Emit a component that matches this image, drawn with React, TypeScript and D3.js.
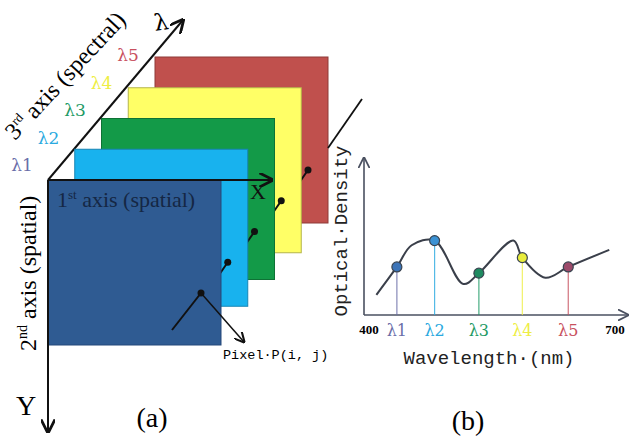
import React from "react";
import * as d3 from "d3";

// panel (a): image cube layers, front (λ1) to back (λ5)
const layerNames = ["λ1", "λ2", "λ3", "λ4", "λ5"];
const layerFill = ["#2f5b92", "#18b2ee", "#139a48", "#ffff66", "#c0504d"];
const layerStroke = ["#24487a", "#1784b4", "#0e7235", "#b5b54a", "#8e3b39"];
const layerHeight = [165, 157, 161, 165, 166];
const labelColor = ["#6a6ea8", "#2aa9e0", "#1d9a64", "#eeee44", "#c8505e"];

// panel (b): spectrum
const curveNm = [409, 434, 452, 480, 515, 534, 576, 587, 615, 643, 693];
const curveOD = [0.13, 0.31, 0.45, 0.48, 0.2, 0.27, 0.48, 0.37, 0.24, 0.31, 0.42];
const bandNm = [434, 480, 534, 587, 643];
const bandOD = [0.31, 0.48, 0.27, 0.37, 0.31];
const dotFill = ["#3c74b8", "#3b92d4", "#1f8a60", "#e8ec3c", "#9c4a6a"];
const tickNm = [400, 700];

const W = 630;
const H = 439;
const serif = "'Liberation Serif', 'Times New Roman', serif";
const greek = "'DejaVu Serif', serif";
const mono = "'Liberation Mono', 'DejaVu Sans Mono', monospace";

export default function App() {
  const layerX = d3.scaleLinear().domain([0, 4]).range([48, 155]);
  const layerY = d3.scaleLinear().domain([0, 4]).range([180, 57]);
  const labX = d3.scaleLinear().domain([0, 4]).range([22, 128]);
  const labY = d3.scaleLinear().domain([0, 4]).range([171, 61]);
  const layerW = 173;

  const x = d3.scaleLinear().domain([400, 700]).range([369, 615]);
  const y = d3.scaleLinear().domain([0, 1]).range([315, 160]);
  const axisX0 = 364;

  const pts = curveNm.map((n, i) => [x(n), y(curveOD[i])] as [number, number]);
  const line = d3.line().curve(d3.curveCatmullRom.alpha(0.5));

  const order = d3.range(layerNames.length).reverse();

  return (
    <svg width={W} height={H} style={{ position: "absolute", left: 0, top: 0, background: "#fff" }}>
      <defs>
        <marker id="arr" viewBox="0 0 10 10" refX="9" refY="5" markerWidth="7" markerHeight="7" orient="auto">
          <path d="M0,0 L10,5 L0,10" fill="none" stroke="#111" strokeWidth="2" />
        </marker>
        <marker id="arrG" viewBox="0 0 10 10" refX="9" refY="5" markerWidth="7" markerHeight="7" orient="auto">
          <path d="M0,0 L10,5 L0,10" fill="none" stroke="#4a5060" strokeWidth="1.6" />
        </marker>
      </defs>

      {/* spectral axis */}
      <line x1={48} y1={180} x2={183} y2={20} stroke="#111" strokeWidth={2} markerEnd="url(#arr)" />
      <text x={155} y={31} fontFamily={greek} fontSize={23} transform="rotate(-8,155,31)">λ</text>
      <text x={15} y={141} fontFamily={serif} fontSize={24} transform="rotate(-47,15,141)">
        3<tspan fontSize={13} dy={-9}>rd</tspan><tspan dy={9}> axis (spectral)</tspan>
      </text>
      {layerNames.map((n, i) => (
        <text key={n} x={labX(i)} y={labY(i)} textAnchor="middle" fontFamily={greek} fontSize={17} fill={labelColor[i]}>{n}</text>
      ))}

      {/* layers */}
      {order.map((i) => {
        const lx = layerX(i), ly = layerY(i);
        const dx = lx + 153, dy = ly + 113;
        return (
          <g key={i}>
            <rect x={lx} y={ly} width={layerW} height={layerHeight[i]} fill={layerFill[i]} stroke={layerStroke[i]} strokeWidth={1} />
            {i > 0 && <line x1={dx - 9} y1={dy + 13} x2={dx} y2={dy} stroke="#111" strokeWidth={2} />}
            <circle cx={dx} cy={dy} r={3.5} fill="#111" />
          </g>
        );
      })}
      <line x1={328} y1={148} x2={362} y2={99} stroke="#111" strokeWidth={1.8} />
      <line x1={layerX(0) + 153} y1={layerY(0) + 113} x2={172} y2={330} stroke="#111" strokeWidth={2} />
      <line x1={layerX(0) + 153} y1={layerY(0) + 113} x2={244} y2={342} stroke="#111" strokeWidth={1.5} markerEnd="url(#arr)" />
      <text x={223} y={359} fontFamily={mono} fontSize={13.5}>Pixel·P(i, j)</text>

      <text x={57} y={207} fontFamily={serif} fontSize={22} fill="#152744">
        1<tspan fontSize={13} dy={-8}>st</tspan><tspan dy={8}> axis (spatial)</tspan>
      </text>
      <text x={36} y={351} fontFamily={serif} fontSize={24} transform="rotate(-90,36,351)">
        2<tspan fontSize={14} dy={-9}>nd</tspan><tspan dy={9}> axis (spatial)</tspan>
      </text>

      {/* spatial axes */}
      <line x1={48} y1={180} x2={272} y2={180} stroke="#111" strokeWidth={2} markerEnd="url(#arr)" />
      <line x1={48} y1={180} x2={48} y2={432} stroke="#111" strokeWidth={2} markerEnd="url(#arr)" />
      <text x={250} y={199} fontFamily={serif} fontSize={22} fill="#111">X</text>
      <text x={16} y={415} fontFamily={serif} fontSize={28}>Y</text>
      <text x={152} y={427} textAnchor="middle" fontFamily={serif} fontSize={28}>(a)</text>

      {/* panel (b) */}
      <line x1={axisX0} y1={y(0)} x2={axisX0} y2={158} stroke="#4a5060" strokeWidth={1.6} markerEnd="url(#arrG)" />
      <line x1={axisX0} y1={y(0)} x2={628} y2={y(0)} stroke="#4a5060" strokeWidth={1.6} markerEnd="url(#arrG)" />
      {bandNm.map((n, i) => (
        <line key={"d" + i} x1={x(n)} y1={y(bandOD[i])} x2={x(n)} y2={y(0)} stroke={labelColor[i]} strokeWidth={1.2} opacity={0.8} />
      ))}
      <path d={line(pts) || ""} fill="none" stroke="#3a3f4a" strokeWidth={2} />
      {bandNm.map((n, i) => (
        <circle key={"c" + i} cx={x(n)} cy={y(bandOD[i])} r={5} fill={dotFill[i]} stroke="#3a4450" strokeWidth={1.2} />
      ))}
      {tickNm.map((t) => (
        <text key={t} x={x(t)} y={334} textAnchor="middle" fontFamily={serif} fontSize={13} fontWeight="bold">{t}</text>
      ))}
      {bandNm.map((n, i) => (
        <text key={"l" + i} x={x(n)} y={336} textAnchor="middle" fontFamily={greek} fontSize={16} fill={labelColor[i]}>{layerNames[i]}</text>
      ))}
      <text x={489} y={364} textAnchor="middle" fontFamily={mono} fontSize={19} fill="#222">Wavelength·(nm)</text>
      <text x={347} y={231} textAnchor="middle" fontFamily={mono} fontSize={19} fill="#222" transform="rotate(-90,347,231)">Optical·Density</text>
      <text x={468} y={430} textAnchor="middle" fontFamily={serif} fontSize={28}>(b)</text>
    </svg>
  );
}
